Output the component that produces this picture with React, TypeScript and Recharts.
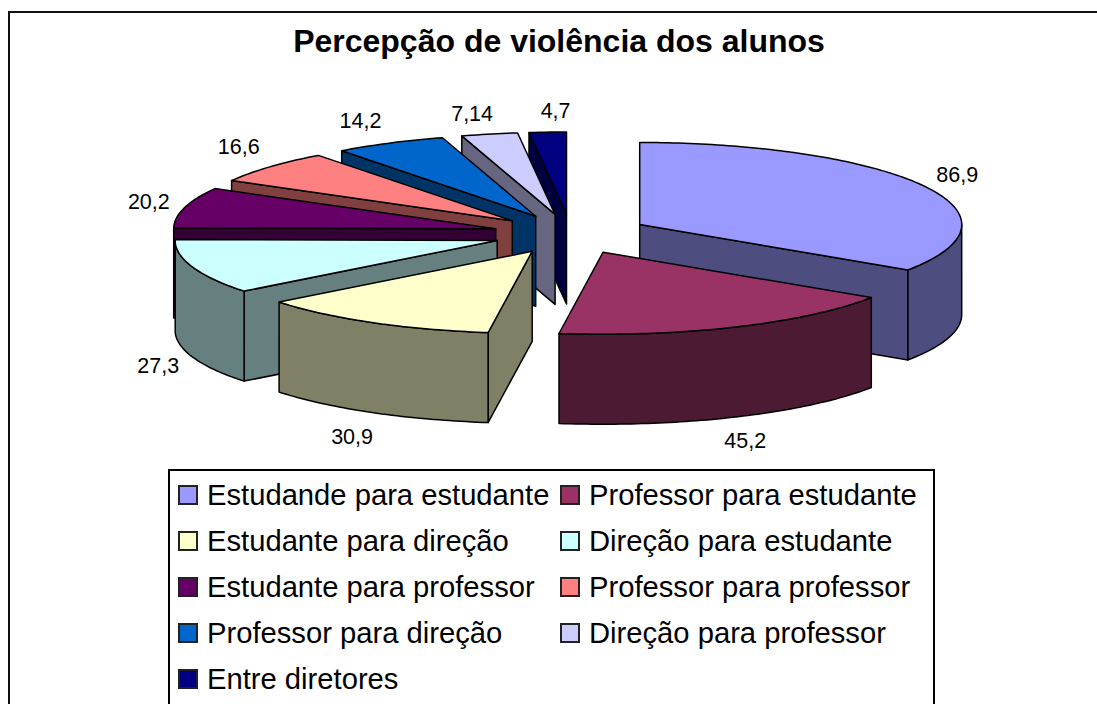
import { Pie, PieChart } from "recharts";

const categories = [
	"Estudande para estudante",
	"Professor para estudante",
	"Estudante para direção",
	"Direção para estudante",
	"Estudante para professor",
	"Professor para professor",
	"Professor para direção",
	"Direção para professor",
	"Entre diretores",
];
const values = [86.9, 45.2, 30.9, 27.3, 20.2, 16.6, 14.2, 7.14, 4.7];
const valueLabels = ["86,9", "45,2", "30,9", "27,3", "20,2", "16,6", "14,2", "7,14", "4,7"];
const topColors = ["#9999FF", "#993366", "#FFFFCC", "#CCFFFF", "#660066", "#FF8080", "#0066CC", "#CCCCFF", "#000080"];
const wallColors = ["#4D4D80", "#4D1A33", "#808066", "#668080", "#330033", "#804040", "#003366", "#666680", "#000040"];

// back slices first so the nearer ones paint over them
const drawOrder = [8, 7, 6, 5, 4, 3, 2, 0, 1];

const FONT = "'Liberation Sans', Arial, sans-serif";
const SQUASH = 0.2547; // ellipse height / width of the tilted pie
const DEPTH = 90;
const EXPLODE_X = 78;
const EXPLODE_Y = 20;
// small hand nudges for the value labels, as Excel placed them
const labelNudge = [[2, 0], [-5, 4], [-2, 5], [0, 2], [-1, 0], [-4, -5], [-13, -2], [-10, 1], [10, 1]];

const rows = categories.map((name, i) => ({ name, value: values[i] }));

function Slice3D(props: any) {
	const { cx, cy, outerRadius, startAngle, endAngle, index } = props;
	const rx = outerRadius;
	const ry = outerRadius * SQUASH;
	// clockwise from 12 o'clock, in radians
	const rad = (deg: number) => (deg * Math.PI) / 180;
	const from = 90 - startAngle;
	const to = 90 - endAngle;
	const mid = (from + to) / 2;
	const ax = cx + EXPLODE_X * Math.sin(rad(mid));
	const ay = cy - EXPLODE_Y * Math.cos(rad(mid));
	const pt = (deg: number) => [ax + rx * Math.sin(rad(deg)), ay - ry * Math.cos(rad(deg))];

	const arc = (a: number, b: number) => {
		const pts: number[][] = [];
		const n = Math.max(2, Math.ceil(Math.abs(b - a)));
		for (let k = 0; k <= n; k++) pts.push(pt(a + ((b - a) * k) / n));
		return pts;
	};
	const toPath = (pts: number[][]) => "M" + pts.map((p) => `${p[0].toFixed(1)},${p[1].toFixed(1)}`).join("L") + "Z";

	const stroke = { stroke: "#000", strokeWidth: 1.5, strokeLinejoin: "round" as const };
	const walls: any[] = [];
	const inner = [ax + 0.5 * rx * Math.sin(rad(mid)), ay - 0.5 * ry * Math.cos(rad(mid))];
	for (const deg of [from, to]) {
		const p = pt(deg);
		const dx = p[0] - ax;
		if (Math.abs(dx) < 0.5) continue;
		const lineY = ay + ((inner[0] - ax) / dx) * (p[1] - ay);
		if (inner[1] < lineY) {
			walls.push(
				<path
					key={deg}
					d={toPath([[ax, ay], p, [p[0], p[1] + DEPTH], [ax, ay + DEPTH]])}
					fill={wallColors[index]}
					{...stroke}
				/>,
			);
		}
	}
	// only the part of the rim that faces the viewer
	const rimFrom = Math.max(from, 90);
	const rimTo = Math.min(to, 270);
	if (rimTo > rimFrom) {
		const top = arc(rimFrom, rimTo);
		const bottom = top.map((p) => [p[0], p[1] + DEPTH]).reverse();
		walls.push(<path key="rim" d={toPath([...top, ...bottom])} fill={wallColors[index]} {...stroke} />);
	}

	const edge = pt(mid);
	const front = mid > 90 && mid < 270;
	const lx = edge[0] + 36 * Math.sin(rad(mid)) + labelNudge[index][0];
	const ly = edge[1] - 22 * Math.cos(rad(mid)) + (front ? DEPTH : 0) + labelNudge[index][1];

	return (
		<g>
			{walls}
			<path d={toPath([[ax, ay], ...arc(from, to)])} fill={topColors[index]} {...stroke} />
			<text x={lx} y={ly} textAnchor="middle" dominantBaseline="central" fontFamily={FONT} fontSize={21.5} fill="#000">
				{valueLabels[index]}
			</text>
		</g>
	);
}

function LegendBox() {
	return (
		<div
			style={{
				position: "absolute",
				left: 168,
				top: 469,
				width: 763,
				height: 233,
				border: "2px solid #000",
				background: "#fff",
				boxSizing: "content-box",
			}}
		>
			{categories.map((name, i) => {
				const col = i % 2;
				const row = Math.floor(i / 2);
				return (
					<div
						key={name}
						style={{
							position: "absolute",
							left: col === 0 ? 8 : 390,
							top: 14 + row * 46,
							height: 20,
							display: "flex",
							alignItems: "center",
							whiteSpace: "nowrap",
							fontFamily: FONT,
							fontSize: 29.2,
							color: "#000",
						}}
					>
						<span
							style={{
								width: 16,
								height: 16,
								border: "2px solid #222",
								background: topColors[i],
								marginRight: col === 0 ? 9 : 9,
								flex: "none",
							}}
						/>
						{name}
					</div>
				);
			})}
		</div>
	);
}

export default function App() {
	return (
		<div style={{ position: "absolute", left: 0, top: 0, width: 1097, height: 704, overflow: "hidden", background: "#fff" }}>
			<div
				style={{
					position: "absolute",
					left: 8,
					top: 11,
					width: 1200,
					height: 800,
					border: "2px solid #111",
				}}
			/>
			<div
				style={{
					position: "absolute",
					left: 0,
					top: 23,
					width: 1118,
					textAlign: "center",
					fontFamily: FONT,
					fontWeight: 700,
					fontSize: 32,
					color: "#000",
				}}
			>
				Percepção de violência dos alunos
			</div>
			<div style={{ position: "absolute", left: 0, top: 0 }}>
				<PieChart width={1097} height={704} margin={{ top: 0, right: 0, bottom: 0, left: 0 }}>
					{drawOrder.map((idx) => (
						<Pie
							key={idx}
							data={rows}
							dataKey="value"
							nameKey="name"
							cx={571}
							cy={234}
							innerRadius={0}
							outerRadius={322}
							startAngle={90}
							endAngle={-270}
							stroke="none"
							legendType="none"
							isAnimationActive={false}
							shape={(p: any) => (p.index === idx ? <Slice3D {...p} /> : <g />)}
						/>
					))}
				</PieChart>
			</div>
			<LegendBox />
		</div>
	);
}
